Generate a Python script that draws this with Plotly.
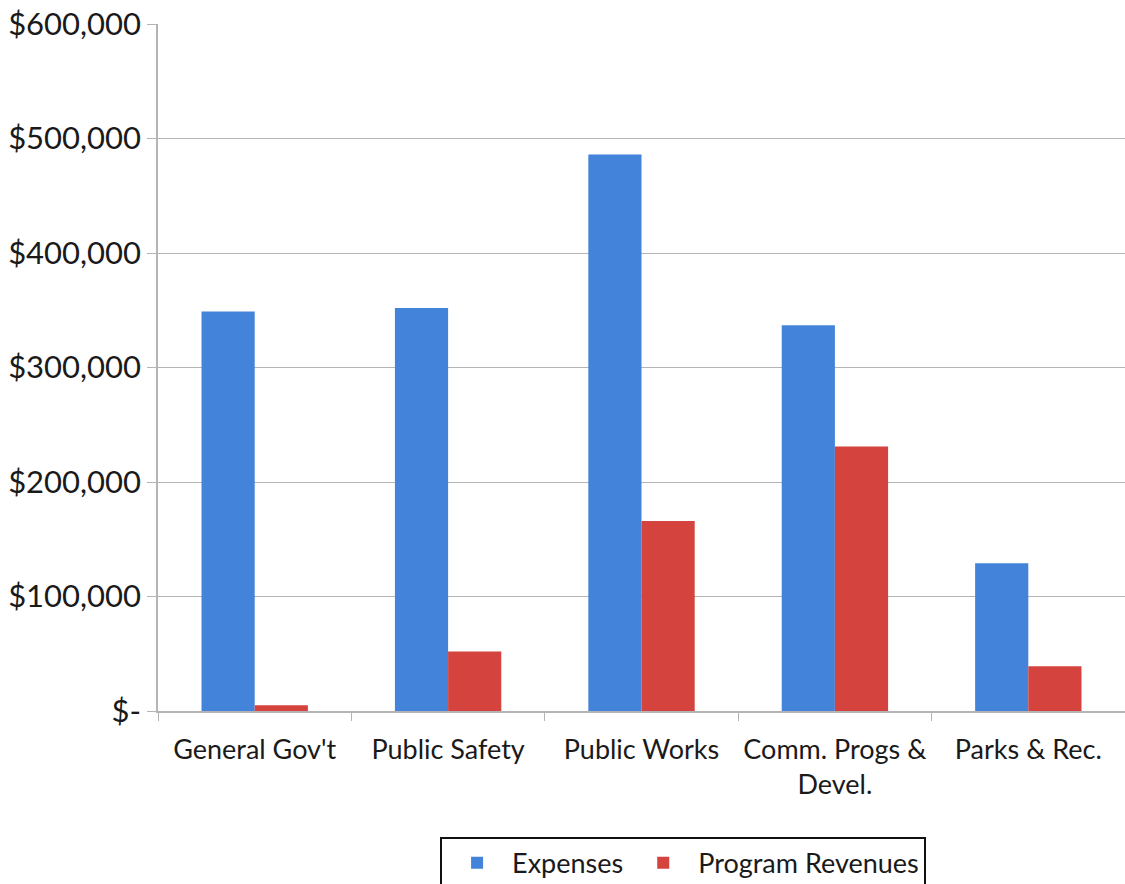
import plotly.graph_objects as go

categories = ["General Gov't", "Public Safety", "Public Works", "Comm. Progs &<br>Devel.", "Parks & Rec."]
expenses = [349000, 352000, 486000, 337000, 129000]
program_revenues = [5000, 52000, 166000, 231000, 39000]
y_tick_values = [0, 100000, 200000, 300000, 400000, 500000, 600000]
y_tick_labels = ["$-", "$100,000", "$200,000", "$300,000", "$400,000", "$500,000", "$600,000"]

FONT = "Lato"
GRID = "#b4b4b4"

fig = go.Figure()
fig.add_trace(go.Bar(name="Expenses", x=categories, y=expenses,
                     marker=dict(color="#4384DA", line=dict(width=0))))
fig.add_trace(go.Bar(name="Program Revenues", x=categories, y=program_revenues,
                     marker=dict(color="#D4433D", line=dict(width=0))))

fig.update_layout(
    width=1125, height=884,
    margin=dict(l=158, r=0, t=24, b=173, autoexpand=False),
    paper_bgcolor="white", plot_bgcolor="white",
    barmode="group", bargap=0.45, bargroupgap=0,
    font=dict(family=FONT, size=27, color="#1a1a1a"),
    showlegend=True,
    legend=dict(orientation="h", x=0.543, xanchor="center", y=-0.183, yanchor="top",
                bordercolor="#111111", borderwidth=2, bgcolor="white",
                font=dict(family=FONT, size=27, color="#1a1a1a"),
                itemsizing="constant", traceorder="normal", itemwidth=60),
)
fig.update_xaxes(
    type="category", tickson="boundaries", ticks="outside", ticklen=8,
    tickcolor=GRID, showline=True, linecolor=GRID, linewidth=1.5,
    showgrid=False, tickfont=dict(family=FONT, size=27), ticklabelstandoff=14,
)
fig.update_yaxes(
    range=[0, 600000], tickvals=y_tick_values, ticktext=y_tick_labels,
    ticks="outside", ticklen=9, tickcolor=GRID,
    showline=True, linecolor=GRID, linewidth=1.5,
    showgrid=True, gridcolor=GRID, gridwidth=1.2, zeroline=False,
    tickfont=dict(family=FONT, size=31),
)

fig.write_html("out.html")
